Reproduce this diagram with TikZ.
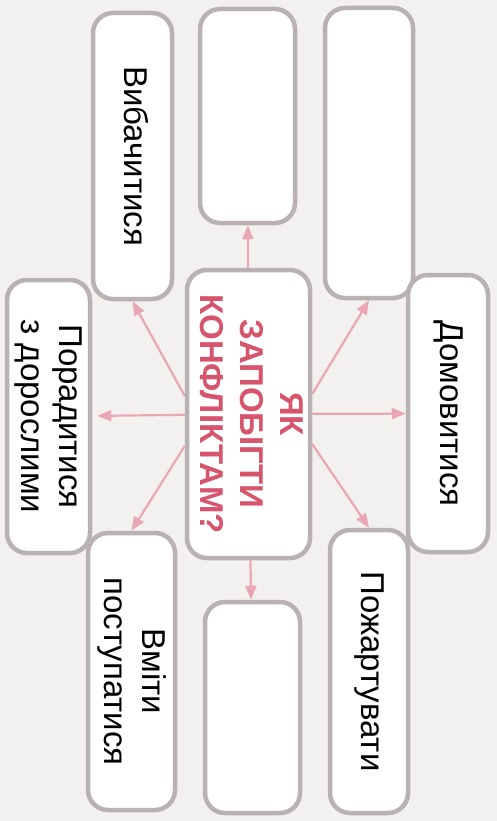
\documentclass[tikz,border=0pt]{standalone}
\usepackage{fontspec}
\setmainfont{Liberation Sans}
\usetikzlibrary{arrows.meta,calc}
\definecolor{bggray}{RGB}{243,241,239}
\definecolor{boxgray}{RGB}{186,178,178}
\definecolor{arrowpink}{RGB}{234,166,178}
\definecolor{titlered}{RGB}{214,84,108}
\newcommand{\vtext}[1]{\rotatebox{-90}{\fontsize{33}{38}\selectfont\begin{tabular}{@{}c@{}}#1\end{tabular}}}
\begin{document}
\begin{tikzpicture}[x=1pt,y=-1pt,
  box/.style={draw=boxgray, line width=4.5pt, fill=white, rounded corners=20pt, inner sep=0pt, anchor=center},
  link/.style={draw=arrowpink, line width=2.2pt, -{Triangle[length=14pt,width=11pt]}}
]
\fill[bggray] (0,0) rectangle (497,821);
\useasboundingbox (0,0) rectangle (497,821);

\node[box, minimum width=79pt, minimum height=286pt] (b1) at (132.5,156) {\vtext{Вибачитися}};
\node[box, minimum width=95pt, minimum height=214pt] (b2) at (247.5,116) {};
\node[box, minimum width=88pt, minimum height=290pt] (b3) at (369,153) {};
\node[box, minimum width=83pt, minimum height=273pt] (b4) at (48.5,416.5) {\vtext{Порадитися\\з дорослими}};
\node[box, minimum width=123pt, minimum height=288pt] (c) at (248.5,414) {\rotatebox{-90}{\fontsize{33}{40}\selectfont\bfseries\color{titlered}\begin{tabular}{@{}c@{}}ЯК\\ЗАПОБІГТИ\\КОНФЛІКТАМ?\end{tabular}}};
\node[box, minimum width=80pt, minimum height=277pt] (b6) at (448,413.5) {\vtext{Домовитися}};
\node[box, minimum width=87pt, minimum height=277pt] (b7) at (131.5,671.5) {\vtext{Вміти\\поступатися}};
\node[box, minimum width=95pt, minimum height=211pt] (b8) at (252.5,707.5) {};
\node[box, minimum width=78pt, minimum height=283pt] (b9) at (369,671.5) {\vtext{Пожартувати}};

\coordinate (cul) at ($(c.west)+(0,-18)$);
\coordinate (cll) at ($(c.west)+(0,32)$);
\coordinate (cur) at ($(c.east)+(0,-20)$);
\coordinate (clr) at ($(c.east)+(0,30)$);

\draw[link] (c) -- (b2);
\draw[link] (c) -- (b8);
\draw[link, shorten >=5pt] (c) -- (b4);
\draw[link] (c) -- (b6);
\draw[link] (cul) -- (b1.south);
\draw[link] (cur) -- (b3.south);
\draw[link] (cll) -- (b7.north);
\draw[link] (clr) -- (b9.north);
\end{tikzpicture}
\end{document}
